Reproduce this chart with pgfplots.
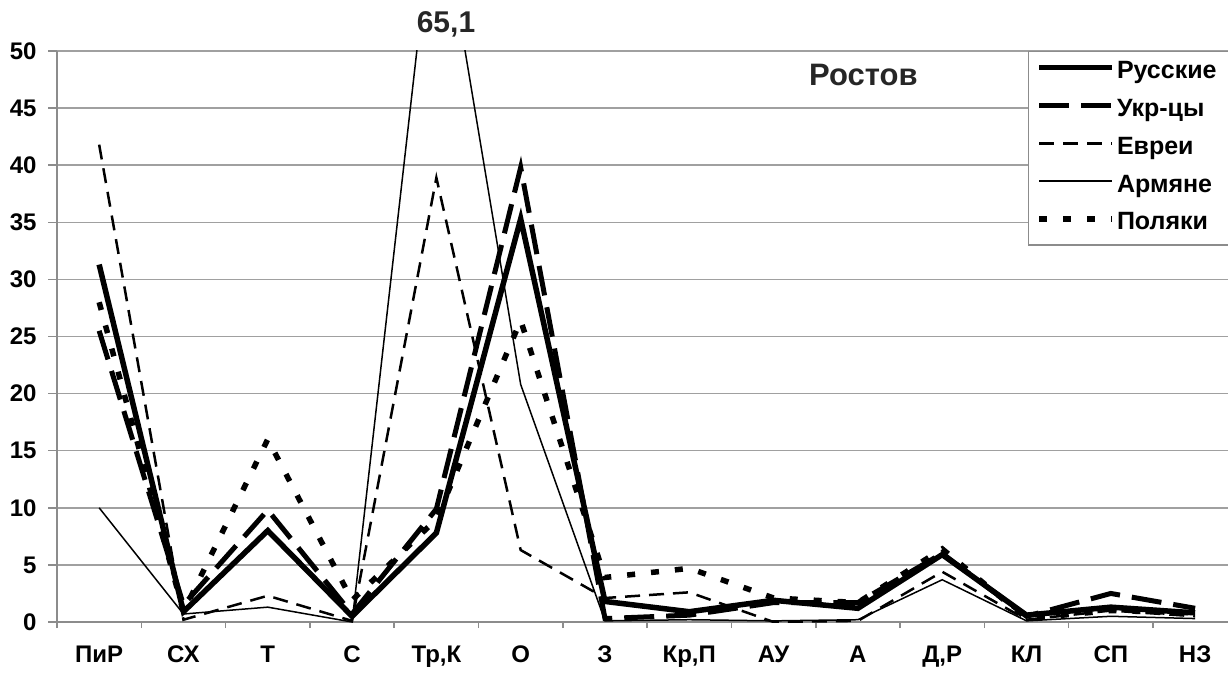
\documentclass[border=0pt]{standalone}
\usepackage{pgfplots}
\pgfplotsset{compat=1.18}
\usepackage{fontspec}
\setmainfont{Liberation Sans}
\definecolor{gridgray}{HTML}{A0A0A0}
\definecolor{axgray}{HTML}{8C8C8C}
\begin{document}
\begin{tikzpicture}[x=1pt,y=1pt]
\path[use as bounding box] (0,0) rectangle (1228,672);
\begin{axis}[
  at={(57pt,50pt)}, anchor=south west,
  scale only axis, width=1171pt, height=571pt,
  xmin=-0.5, xmax=13.39, ymin=0, ymax=50,
  axis x line*=bottom, axis y line*=left,
  axis line style={-, draw=axgray, line width=1.5pt},
  xtick={0,...,13},
  xticklabels={ПиР,СХ,Т,С,{Тр,К},О,З,{Кр,П},АУ,А,{Д,Р},КЛ,СП,НЗ},
  minor xtick={-0.5,0.5,...,12.5},
  major x tick style={draw=none},
  minor x tick style={draw=axgray, line width=1.5pt},
  minor tick length=6pt,
  ytick={0,5,...,50},
  major y tick style={draw=axgray, line width=1.5pt},
  major tick length=9pt,
  tick align=outside,
  ymajorgrids, grid style={draw=gridgray, line width=1.5pt},
  /pgf/number format/assume math mode=true,
  yticklabel style={font=\fontsize{24}{26}\selectfont\bfseries, anchor=east, xshift=-8pt},
  xticklabel style={font=\fontsize{24}{26}\selectfont\bfseries, anchor=base, yshift=-31pt},
  legend cell align=left,
  legend style={at={(axis description cs:0.829,1)}, anchor=north west,
    draw=axgray, line width=1.5pt, fill=white,
    font=\fontsize{25}{28}\selectfont\bfseries,
    inner xsep=8pt, inner ysep=10pt,
    row sep=15.8pt,
    nodes={text height=17pt, text depth=5pt, inner ysep=0pt}},
  legend image code/.code={\draw[#1] (0pt,5pt) -- (73pt,5pt);},
]
\addplot[black, line width=5.5pt] coordinates {
(0,31.3) (1,0.9) (2,8.0) (3,0.5) (4,7.8) (5,35.3) (6,1.8) (7,0.9) (8,1.9) (9,1.2) (10,5.9) (11,0.6) (12,1.3) (13,0.8)};
\addlegendentry{\makebox[110pt][l]{Русские}}
\addplot[black, line width=5pt, dash pattern=on 30pt off 12pt] coordinates {
(0,25.5) (1,1.5) (2,9.8) (3,0.7) (4,9.9) (5,39.8) (6,0.3) (7,0.6) (8,1.7) (9,1.7) (10,6.0) (11,0.5) (12,2.5) (13,1.2)};
\addlegendentry{Укр-цы}
\addplot[black, line width=2.5pt, dash pattern=on 15pt off 9pt] coordinates {
(0,41.8) (1,0.2) (2,2.3) (3,0.1) (4,38.9) (5,6.3) (6,2.1) (7,2.6) (8,0.0) (9,0.1) (10,4.4) (11,0.2) (12,1.0) (13,0.5)};
\addlegendentry{Евреи}
\addplot[black, line width=1.5pt] coordinates {
(0,10.0) (1,0.7) (2,1.3) (3,0.0) (4,65.1) (5,20.8) (6,0.1) (7,0.2) (8,0.1) (9,0.2) (10,3.7) (11,0.1) (12,0.5) (13,0.3)};
\addlegendentry{Армяне}
\addplot[black, line width=5.5pt, dash pattern=on 8pt off 16pt] coordinates {
(0,28.0) (1,0.9) (2,16.0) (3,1.9) (4,9.0) (5,26.4) (6,3.9) (7,4.7) (8,2.1) (9,1.7) (10,6.4) (11,0.3) (12,1.0) (13,0.8)};
\addlegendentry{Поляки}
\end{axis}
\node[anchor=base, font=\fontsize{30}{32}\selectfont\bfseries, text=black!85] at (446,639) {65,1};
\node[anchor=base west, inner sep=0pt, font=\fontsize{31}{34}\selectfont\bfseries, text=black!85] at (809,586) {Ростов};
\end{tikzpicture}
\end{document}
